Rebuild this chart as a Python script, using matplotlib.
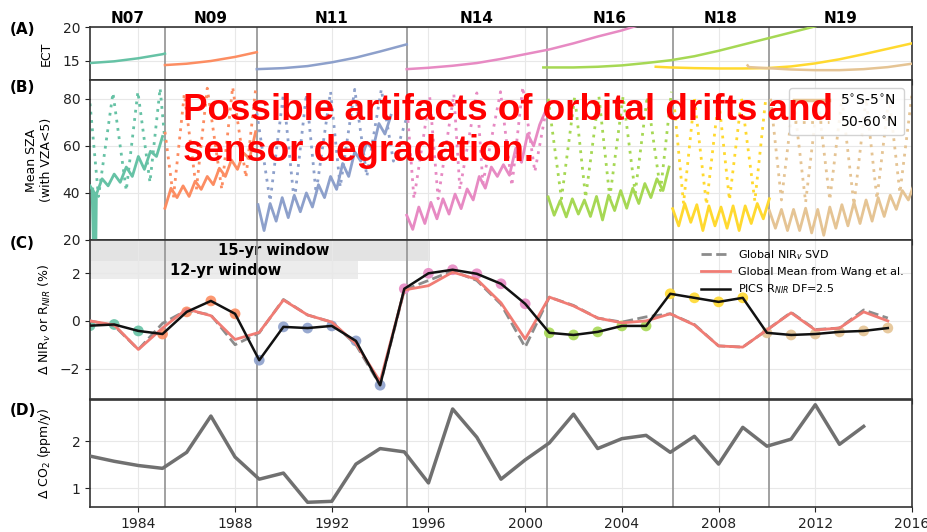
import matplotlib
matplotlib.use("Agg")
import matplotlib.pyplot as plt
import numpy as np

from matplotlib.lines import Line2D

# satellites
SAT_NAMES  = ["N07", "N09", "N11", "N14", "N16", "N18", "N19"]
SAT_COLORS = ["#66c2a5", "#fc8d62", "#8da0cb", "#e78ac3", "#a6d854", "#ffd92f", "#e5c494"]
SAT_STARTS = [1982.0, 1985.1, 1988.9, 1995.1, 2000.9, 2006.1, 2010.1]
SAT_ENDS   = [1985.1, 1988.9, 1995.1, 2000.9, 2006.1, 2010.1, 2016.0]

# (A) equator crossing time
ect_n07_t = [1982.0, 1983.0, 1984.0, 1985.0, 1985.1]
ect_n07   = [14.7, 14.95, 15.4, 16.0, 16.1]
ect_n09_t = [1985.1, 1986.0, 1987.0, 1988.0, 1988.9]
ect_n09   = [14.4, 14.6, 15.0, 15.6, 16.3]
ect_n11_t = [1988.9, 1990, 1991, 1992, 1993, 1994, 1995.1]
ect_n11   = [13.8, 13.95, 14.25, 14.8, 15.5, 16.4, 17.45]
ect_n14_t = [1995.1, 1996, 1997, 1998, 1999, 2000, 2001, 2002, 2003, 2004, 2005]
ect_n14   = [13.8, 14.0, 14.3, 14.7, 15.3, 16.0, 16.7, 17.6, 18.6, 19.5, 20.6]
ect_n16_t = [2000.75, 2002, 2003, 2004, 2005, 2006, 2007, 2008, 2009, 2010, 2011, 2012]
ect_n16   = [14.05, 14.05, 14.15, 14.35, 14.7, 15.1, 15.7, 16.5, 17.4, 18.3, 19.2, 20.1]
ect_n18_t = [2005.4, 2006, 2007, 2008, 2009, 2010, 2011, 2012, 2013, 2014, 2015, 2016]
ect_n18   = [14.15, 14.05, 13.95, 13.9, 13.9, 13.95, 14.2, 14.65, 15.25, 16.0, 16.8, 17.6]
ect_n19_t = [2009.2, 2009.25, 2010, 2011, 2012, 2013, 2014, 2015, 2016]
ect_n19   = [14.35, 14.1, 13.95, 13.75, 13.65, 13.65, 13.8, 14.1, 14.6]

# (B) mean SZA, 5S-5N (quarter-year extremes, first time in SZA_EQ_T0)
SZA_EQ_T0 = [1982.0, 1985.1, 1988.95, 1995.1, 2000.95, 2006.1, 2010.1]
sza_eq_n07 = [43, 39, 46, 43, 48, 44.5, 51, 47, 55.5, 50, 57.7, 55.5, 64]
sza_eq_n09 = [33.5, 42, 38, 43, 38.5, 45, 41.5, 47, 43.5, 50.5, 47, 54, 50, 57, 54.5, 66]
sza_eq_n11 = [35, 24, 35.5, 28, 38, 29.5, 39, 32, 40, 34, 43.5, 38, 47, 41.5, 52.5, 47,
              57.5, 53.5, 61.5, 58.5, 69.5, 65, 73]
sza_eq_n14 = [30.5, 24.5, 34, 27, 36, 29, 37.5, 31, 39.5, 33.3, 41.7, 37, 47, 42, 51, 47,
              52, 47.5, 58.5, 53, 65, 60, 69, 75]
sza_eq_n16 = [38.3, 30.5, 36.8, 29.8, 37.5, 31, 37, 30, 38.5, 28.5, 39, 32.5, 41, 33.5,
              42, 35.5, 44, 38, 46, 41, 51]
sza_eq_n18 = [33.3, 26, 35.5, 27.5, 35, 24, 34.5, 26, 34, 25, 34.5, 24, 34.5, 27, 35.5, 29, 37.5]
sza_eq_n19 = [32.5, 25, 33, 24, 33, 24, 33.5, 23, 33, 22, 34, 25, 35, 26, 36, 27, 37, 28,
              38, 30, 39, 33, 41, 37, 44]
sza_n07_gap_t = [1982.1, 1982.17, 1982.22, 1982.25]
sza_n07_gap   = [41.5, 12, 12, 39]

# (B) mean SZA, 50-60N
sza_hi_n07_t = [1982.0, 1982.35, 1982.95, 1983.5, 1983.98, 1984.48, 1984.9, 1985.1]
sza_hi_n07   = [78, 38.5, 82.5, 41, 83, 44.5, 84.5, 62]
sza_hi_n09_t = [1985.1, 1985.45, 1985.9, 1986.4, 1986.85, 1987.45, 1987.9, 1988.45, 1988.85]
sza_hi_n09   = [66, 38, 82, 41.5, 84.5, 41.5, 85, 46.5, 84]
sza_hi_n11_t = [1988.9, 1989.45, 1990.0, 1990.45, 1990.95, 1991.35, 1991.95, 1992.35,
                1992.95, 1993.45, 1994.05, 1994.55, 1995.1]
sza_hi_n11   = [74, 36.5, 82, 36, 82, 40, 83, 42.5, 84, 47, 84, 53.5, 72]
sza_hi_n14_t = [1995.1, 1995.4, 1996.05, 1996.4, 1997.05, 1997.3, 1998.0, 1998.25,
                1998.98, 1999.45, 1999.9, 2000.4, 2000.9]
sza_hi_n14   = [78, 37.5, 81, 37.5, 82, 41.5, 82.5, 44, 83, 43, 85, 49, 77]
sza_hi_n16_t = [2000.95, 2001.5, 2002.05, 2002.5, 2003.05, 2003.5, 2004.05, 2004.55,
                2005.05, 2005.6, 2006.05]
sza_hi_n16   = [80, 37.5, 81, 38, 81, 38, 81, 40, 81, 41, 83]
sza_hi_n18_t = [2006.15, 2006.55, 2007.0, 2007.5, 2008.0, 2008.45, 2008.95, 2009.5, 2009.95]
sza_hi_n18   = [79, 35.5, 80, 35, 80, 37, 80, 36.5, 80]
sza_hi_n19_t = [2010.15, 2010.6, 2011.1, 2011.6, 2012.1, 2012.6, 2013.1, 2013.6, 2014.1,
                2014.55, 2015.05, 2015.5, 2016.0]
sza_hi_n19   = [80, 37, 80, 36, 80, 37, 80, 35, 80, 37.5, 81, 40, 82]

# (C) NIR anomalies
years_c  = list(range(1982, 2016))
pics_sat = [0, 0, 0, 1, 1, 1, 1, 2, 2, 2, 2, 2, 2, 3, 3, 3, 3, 3, 3,
            4, 4, 4, 4, 4, 5, 5, 5, 5, 6, 6, 6, 6, 6, 6]
pics_nir = [-0.2, -0.15, -0.42, -0.55, 0.38, 0.84, 0.3, -1.65, -0.25, -0.3, -0.21, -0.84,
            -2.7, 1.35, 2.0, 2.15, 1.98, 1.56, 0.72, -0.5, -0.59, -0.46, -0.21, -0.21,
            1.14, 0.97, 0.8, 0.97, -0.5, -0.59, -0.55, -0.46, -0.42, -0.3]
wang_mean = [0.0, -0.17, -1.2, -0.3, 0.5, 0.22, -0.78, -0.48, 0.88, 0.25, -0.05, -0.95,
             -2.55, 1.3, 1.48, 2.05, 1.75, 0.76, -0.76, 1.0, 0.63, 0.12, -0.08, 0.0,
             0.3, -0.17, -1.05, -1.1, -0.38, 0.34, -0.38, -0.3, 0.38, 0.0]
svd_nirv = [0.0, -0.2, -1.2, -0.1, 0.45, 0.25, -1.0, -0.5, 0.9, 0.25, -0.05, -1.0,
            -2.7, 1.3, 1.7, 2.1, 1.7, 0.7, -1.1, 1.0, 0.65, 0.12, -0.05, 0.17,
            0.3, -0.15, -1.05, -1.1, -0.38, 0.36, -0.36, -0.3, 0.46, 0.12]

# (D) CO2 growth rate
years_d = list(range(1982, 2015))
co2_growth = [1.68, 1.57, 1.48, 1.42, 1.76, 2.53, 1.66, 1.19, 1.32, 0.70, 0.72, 1.51,
              1.84, 1.77, 1.11, 2.68, 2.08, 1.19, 1.6, 1.96, 2.57, 1.84, 2.05, 2.12,
              1.76, 2.1, 1.51, 2.29, 1.89, 2.04, 2.77, 1.93, 2.31]

LEFT  = 90 / 928
WIDTH = 822 / 928
GRID_COLOR  = "#e8e8e8"
SPINE_COLOR = "#333333"
BOUND_COLOR = "#9a9a9a"


def main() -> None:
    fig = plt.figure(figsize=[9.28, 5.32], dpi=100)

    ax_a = fig.add_axes([LEFT, 0.8496, WIDTH, 0.0996])
    ax_b = fig.add_axes([LEFT, 0.5489, WIDTH, 0.3008], sharex=ax_a)
    ax_c = fig.add_axes([LEFT, 0.2491, WIDTH, 0.2998], sharex=ax_a)
    ax_d = fig.add_axes([LEFT, 0.0470, WIDTH, 0.2011], sharex=ax_a)

    for ax in (ax_a, ax_b, ax_c, ax_d):
        style_axes(ax)
    for ax in (ax_a, ax_b, ax_c):
        ax.tick_params(labelbottom=False)

    ax_a.set_xlim(1982, 2016)
    ax_a.set_xticks(np.arange(1984, 2017, 4))

    draw_ect(ax_a)
    draw_sza(ax_b)
    draw_nir(ax_c)
    draw_co2(ax_d)

    for ax, letter, y in ((ax_a, "(A)", 0.944), (ax_b, "(B)", 0.836),
                          (ax_c, "(C)", 0.543), (ax_d, "(D)", 0.229)):
        fig.text(0.011, y, letter, fontsize=11, fontweight="bold", va="center")
        ax.yaxis.set_label_coords(-0.045, 0.5)

    fig.text(0.197, 0.826, "Possible artifacts of orbital drifts and\nsensor degradation.",
             color="red", fontsize=26.5, fontweight="bold", family="Liberation Sans",
             ha="left", va="top", linespacing=1.25, zorder=10)

    fig.savefig("out.png", dpi=100)


def style_axes(ax) -> None:
    ax.grid(True, color=GRID_COLOR, linewidth=0.8)
    ax.set_axisbelow(True)
    for spine in ax.spines.values():
        spine.set_color(SPINE_COLOR)
        spine.set_linewidth(1.2)
    ax.tick_params(labelsize=10, colors="#222222")
    for b in SAT_STARTS[1:]:
        ax.axvline(b, color=BOUND_COLOR, linewidth=1.3, zorder=1.5)


def draw_ect(ax) -> None:
    series = [(ect_n07_t, ect_n07), (ect_n09_t, ect_n09), (ect_n11_t, ect_n11),
              (ect_n14_t, ect_n14), (ect_n16_t, ect_n16), (ect_n18_t, ect_n18),
              (ect_n19_t, ect_n19)]
    for (t, v), color in zip(series, SAT_COLORS):
        ax.plot(t, v, color=color, linewidth=1.8, zorder=3)
    ax.set_ylim(12.2, 20)
    ax.set_yticks([15, 20])
    ax.set_ylabel("ECT", fontsize=9)

    for name, t0, t1 in zip(SAT_NAMES, SAT_STARTS, SAT_ENDS):
        ax.text((t0 + t1) / 2, 1.16, name, transform=ax.get_xaxis_transform(),
                ha="center", va="center", fontsize=11, fontweight="bold")


def draw_sza(ax) -> None:
    eq = [sza_eq_n07, sza_eq_n09, sza_eq_n11, sza_eq_n14, sza_eq_n16, sza_eq_n18, sza_eq_n19]
    hi = [(sza_hi_n07_t, sza_hi_n07), (sza_hi_n09_t, sza_hi_n09), (sza_hi_n11_t, sza_hi_n11),
          (sza_hi_n14_t, sza_hi_n14), (sza_hi_n16_t, sza_hi_n16), (sza_hi_n18_t, sza_hi_n18),
          (sza_hi_n19_t, sza_hi_n19)]
    for values, t0, (ht, hv), color in zip(eq, SZA_EQ_T0, hi, SAT_COLORS):
        t = t0 + 0.25 * np.arange(len(values))
        ax.plot(t, values, color=color, linewidth=2.0, zorder=3)
        ax.plot(ht, hv, color=color, linewidth=2.0, linestyle=(0, (1, 2)), zorder=2)
    ax.plot(sza_n07_gap_t, sza_n07_gap, color=SAT_COLORS[0], linewidth=2.5, zorder=3)

    ax.set_ylim(20, 88)
    ax.set_yticks([20, 40, 60, 80])
    ax.set_ylabel("Mean SZA\n(with VZA<5)", fontsize=9)

    handles = [Line2D([], [], color=SAT_COLORS[6], linewidth=2.5),
               Line2D([], [], color=SAT_COLORS[6], linewidth=2.0, linestyle=(0, (1, 2)))]
    ax.legend(handles, [r"5$^{\circ}$S-5$^{\circ}$N", r"50-60$^{\circ}$N"],
              loc="upper right", fontsize=10, framealpha=0.85, handlelength=2.5,
              borderaxespad=0.6)


def draw_nir(ax) -> None:
    ax.fill_between([1982, 1996.05], 2.5, 3.6, color="#e3e3e3", linewidth=0, zorder=0.5)
    ax.fill_between([1982, 1993.1], 1.75, 2.5, color="#ececec", linewidth=0, zorder=0.5)
    ax.text(1989.6, 2.95, "15-yr window", ha="center", va="center",
            fontsize=10.5, fontweight="bold", zorder=1)
    ax.text(1987.6, 2.13, "12-yr window", ha="center", va="center",
            fontsize=10.5, fontweight="bold", zorder=1)

    colors = [SAT_COLORS[i] for i in pics_sat]
    ax.scatter(years_c, pics_nir, c=colors, s=60, alpha=0.9, edgecolors="none", zorder=2)

    ax.plot(years_c, svd_nirv, color="#8c8c8c", linewidth=2.0, linestyle="--",
            label=r"Global NIR$_v$ SVD", zorder=3)
    ax.plot(years_c, wang_mean, color="#f07c74", linewidth=2.0,
            label="Global Mean from Wang et al.", zorder=3.2)
    ax.plot(years_c, pics_nir, color="#111111", linewidth=1.8,
            label=r"PICS R$_{NIR}$ DF=2.5", zorder=3.4)

    ax.set_ylim(-3.3, 3.4)
    ax.set_yticks([-2, 0, 2])
    ax.set_ylabel(r"$\Delta$ NIR$_v$ or R$_{NIR}$ (%)", fontsize=9)
    ax.legend(loc="upper right", fontsize=8, frameon=False, handlelength=2.6,
              borderaxespad=0.3)


def draw_co2(ax) -> None:
    ax.plot(years_d, co2_growth, color="#707070", linewidth=2.5, zorder=3)
    ax.set_ylim(0.6, 2.87)
    ax.set_yticks([1, 2])
    ax.set_ylabel(r"$\Delta$ CO$_2$ (ppm/y)", fontsize=9)


if __name__ == "__main__":
    main()
